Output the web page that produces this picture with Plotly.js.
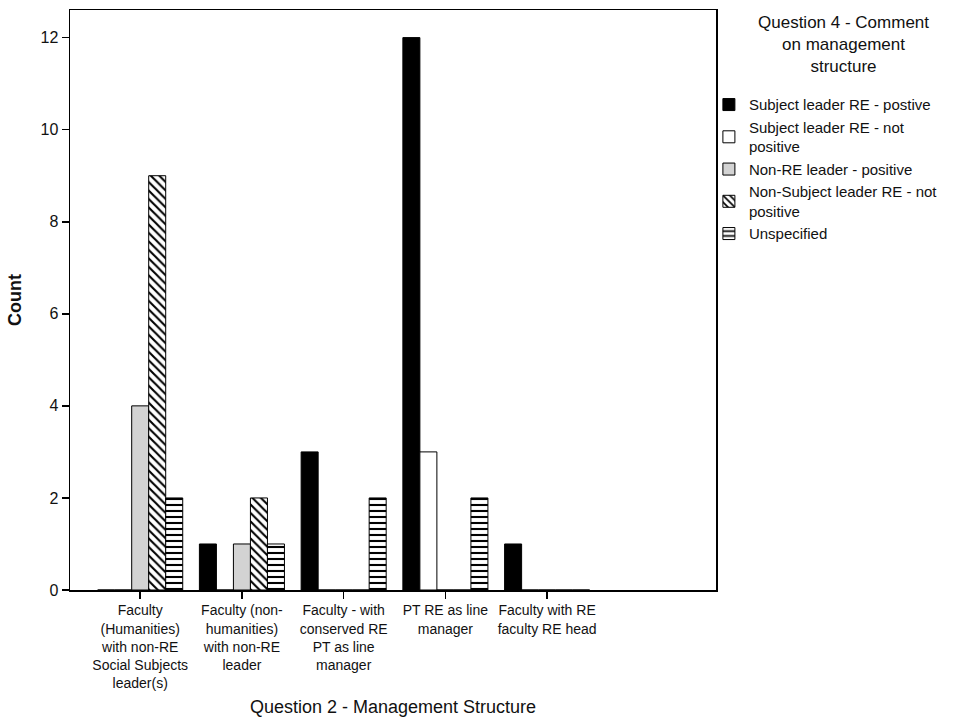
<!DOCTYPE html>
<html>
<head>
<meta charset="utf-8">
<script src="https://cdn.plot.ly/plotly-3.0.1.min.js"></script>
<style>html,body{margin:0;padding:0;background:#fff;}#chart{width:963px;height:721px;}</style>
</head>
<body>
<div id="chart"></div>
<script>
const categories = [
  "Faculty<br>(Humanities)<br>with non-RE<br>Social Subjects<br>leader(s)",
  "Faculty (non-<br>humanities)<br>with non-RE<br>leader",
  "Faculty - with<br>conserved RE<br>PT as line<br>manager",
  "PT RE as line<br>manager",
  "Faculty with RE<br>faculty RE head"
];
const seriesNames = [
  "Subject leader RE - postive",
  "Subject leader RE - not<br>positive",
  "Non-RE leader - positive",
  "Non-Subject leader RE - not<br>positive",
  "Unspecified"
];
const subjectPositive    = [0, 1, 3, 12, 1];
const subjectNotPositive = [0, 0, 0, 3, 0];
const nonRePositive      = [4, 1, 0, 0, 0];
const nonSubjectNotPos   = [9, 2, 0, 0, 0];
const unspecified        = [2, 1, 2, 2, 0];
const yTicks = [0, 2, 4, 6, 8, 10, 12];
const legendTitle = "Question 4 - Comment<br>on management<br>structure";

const values = [subjectPositive, subjectNotPositive, nonRePositive, nonSubjectNotPos, unspecified];
const fills = ["#000000", "#ffffff", "#d3d3d3", "#ffffff", "#ffffff"];
const patterns = ["", "", "", "\\", "-"];

const traces = values.map((v, i) => {
  const marker = {color: fills[i], line: {color: "#000", width: 1}};
  if (patterns[i]) {
    marker.pattern = {shape: patterns[i], fgcolor: "#000", bgcolor: "#fff", size: 6, solidity: 0.35, fillmode: "replace"};
  }
  return {type: "bar", name: seriesNames[i], x: categories, y: v, marker: marker, hoverinfo: "skip"};
});

const layout = {
  width: 963, height: 721,
  margin: {l: 70, r: 247, t: 10, b: 131},
  paper_bgcolor: "#fff", plot_bgcolor: "#fff",
  font: {family: "Liberation Sans, Arial, sans-serif", size: 14, color: "#111"},
  barmode: "group",
  bargap: 0.164,
  bargroupgap: 0,
  showlegend: true,
  xaxis: {
    type: "category",
    range: [-0.69, 5.66],
    showline: true, linecolor: "#000", linewidth: 1.5, mirror: true,
    ticks: "outside", ticklen: 7, tickcolor: "#000", tickwidth: 1.5,
    showgrid: false, zeroline: false,
    tickfont: {size: 14, color: "#111"},
    automargin: false,
    title: {text: "Question 2 - Management Structure", font: {size: 18, color: "#111"}, standoff: 10}
  },
  yaxis: {
    range: [0, 12.6],
    tickvals: yTicks,
    showline: true, linecolor: "#000", linewidth: 1.5, mirror: true,
    ticks: "outside", ticklen: 7, tickcolor: "#000", tickwidth: 1.5,
    showgrid: false, zeroline: false,
    tickfont: {size: 16, color: "#111"},
    automargin: false,
    title: {text: "<b>Count</b>", font: {size: 18, color: "#111"}, standoff: 14}
  },
  legend: {
    x: 0.989, xanchor: "left", y: 0.865, yanchor: "top",
    bgcolor: "rgba(0,0,0,0)",
    font: {size: 15, color: "#111"},
    itemwidth: 30,
    tracegroupgap: 0,
    traceorder: "normal"
  },
  annotations: [{
    text: legendTitle, xref: "paper", yref: "paper",
    x: 1.197, y: 0.998, xanchor: "center", yanchor: "top",
    showarrow: false, align: "center",
    font: {size: 17, color: "#111"}
  }]
};

Plotly.newPlot("chart", traces, layout, {displayModeBar: false, staticPlot: true});
</script>
</body>
</html>
